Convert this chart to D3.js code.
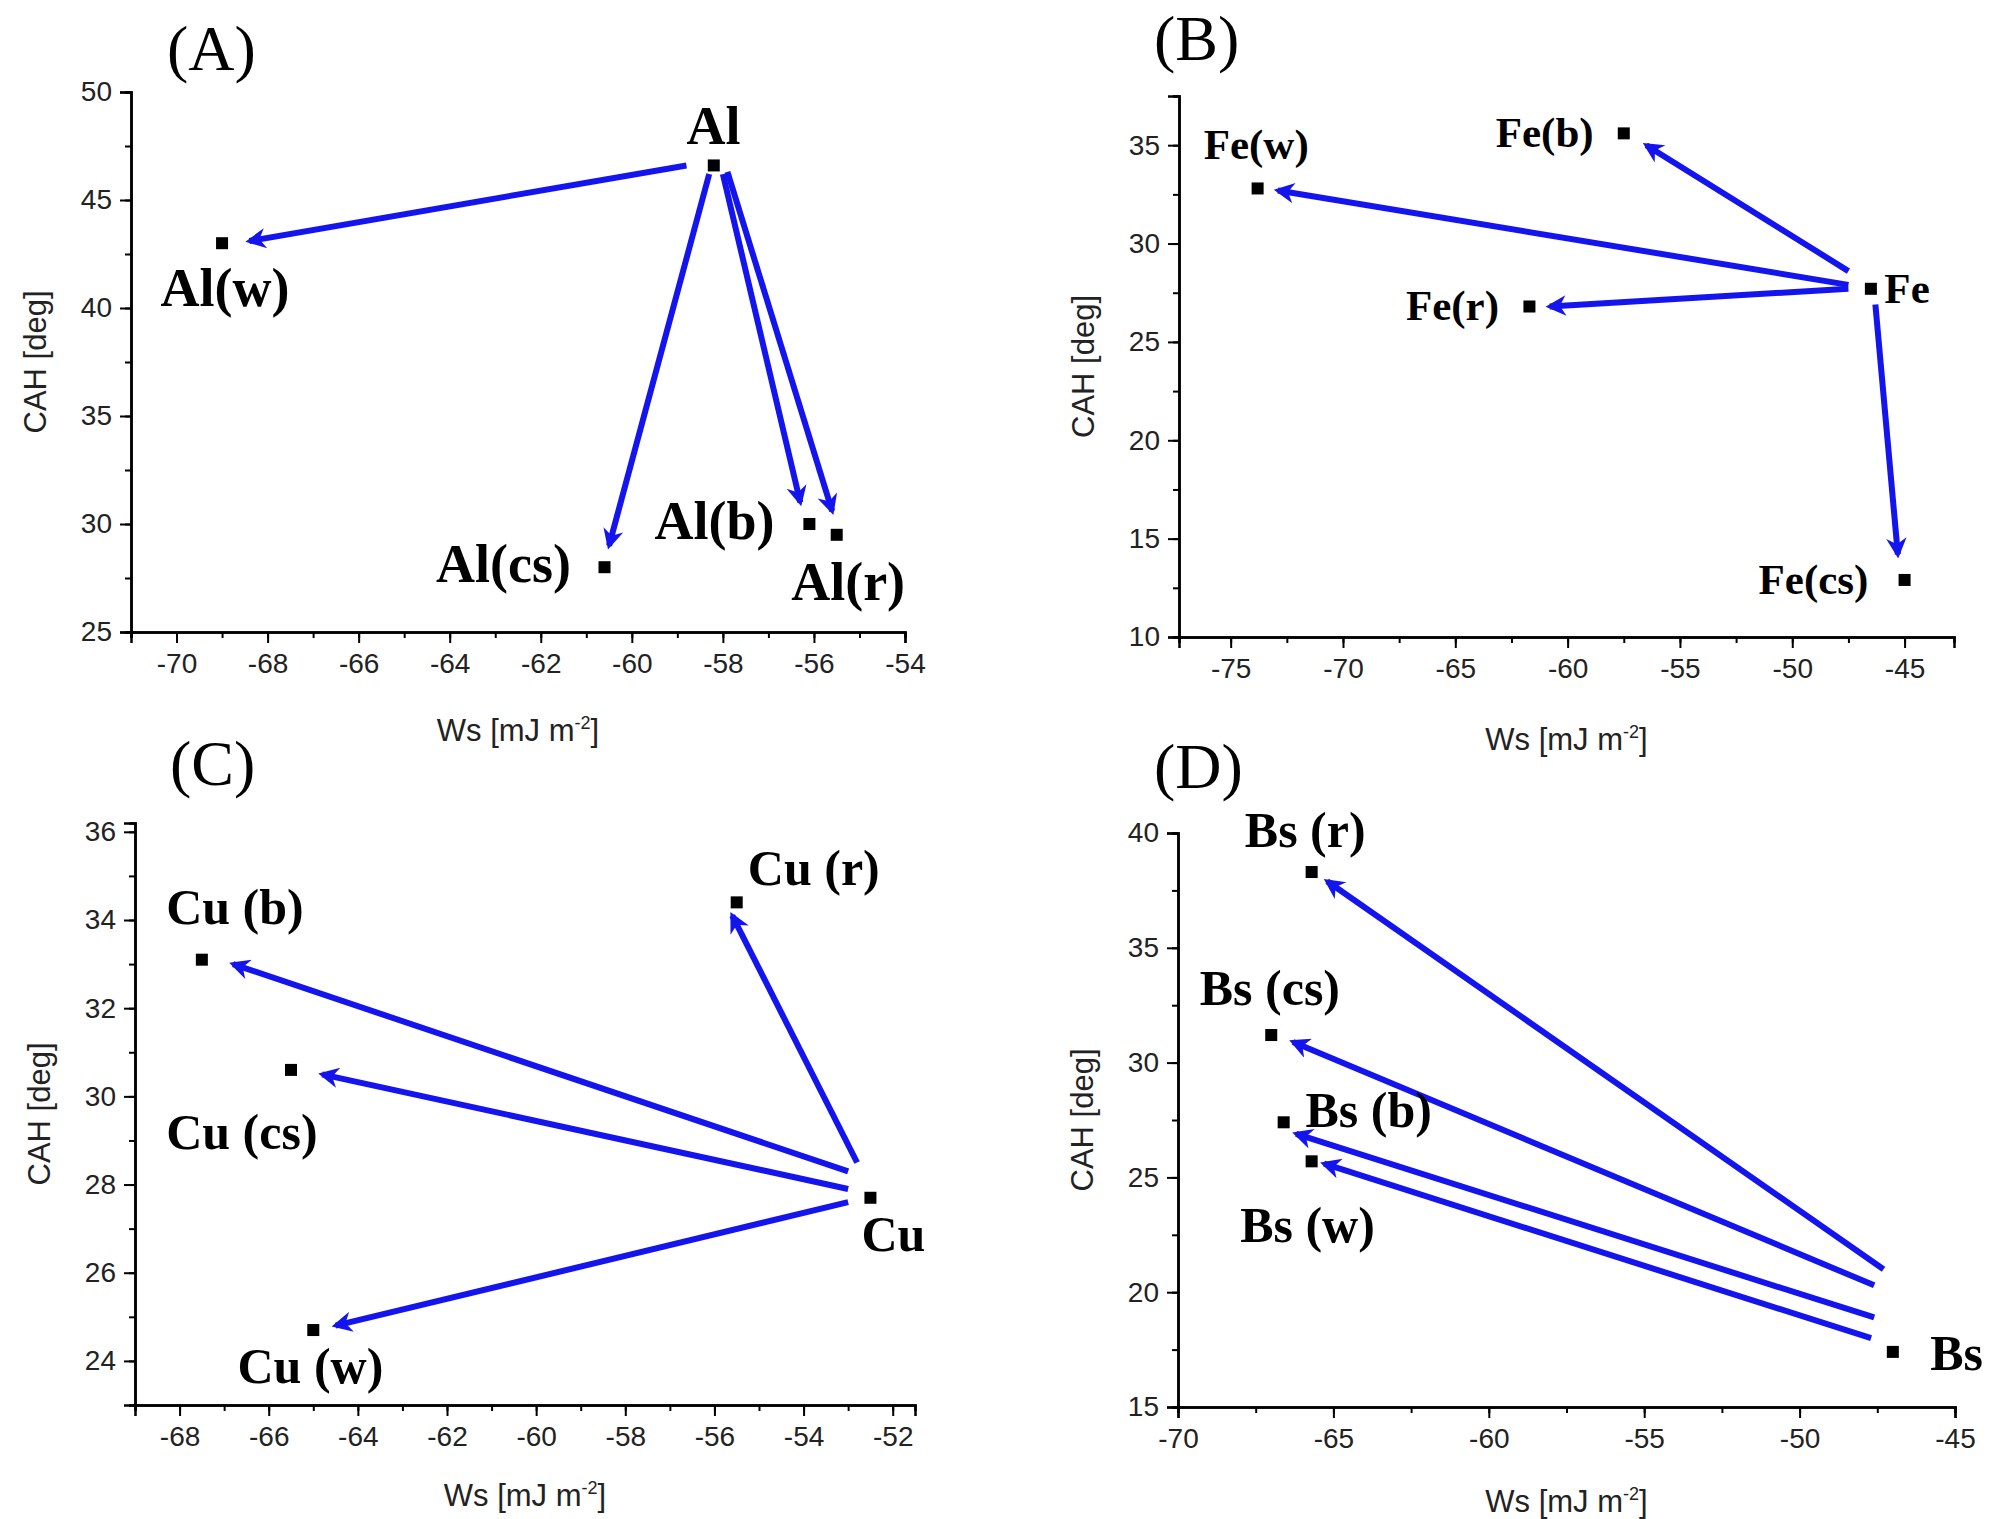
<!DOCTYPE html><html><head><meta charset="utf-8">
<script src="https://cdn.jsdelivr.net/npm/d3@7"></script>
<style>body{margin:0;background:#fff}</style></head><body>
<svg id="c" width="2000" height="1519"></svg>
<script>
// ---- data ----
const panelNames=["(A)","(B)","(C)","(D)"];
const xDomains=[[-71,-54],[-77.3,-42.8],[-69,-51.5],[-70,-45]];
const yDomains=[[25,50],[10,37.5],[23,36.2],[15,40]];
const xTickVals=[[-70,-68,-66,-64,-62,-60,-58,-56,-54],[-75,-70,-65,-60,-55,-50,-45],[-68,-66,-64,-62,-60,-58,-56,-54,-52],[-70,-65,-60,-55,-50,-45]];
const yTickVals=[[25,30,35,40,45,50],[10,15,20,25,30,35],[24,26,28,30,32,34,36],[15,20,25,30,35,40]];
const xMinorStep=[1,2.5,1,2.5], yMinorStep=[2.5,2.5,1,2.5];
const pointsA=[[-58.2,46.6],[-69,43],[-60.6,28],[-56.1,30],[-55.5,29.5]];
const pointsB=[[-46.5,27.7],[-73.8,32.8],[-57.5,35.6],[-61.7,26.8],[-45,12.9]];
const pointsC=[[-52.5,27.7],[-67.5,33.1],[-65.5,30.6],[-65,24.7],[-55.5,34.4]];
const pointsD=[[-47,17.4],[-65.7,38.3],[-67,31.2],[-66.6,27.4],[-65.7,25.7]];
const arrowsA=[[-58.8,46.6,-68.4,43.1],[-58.3,46.2,-60.5,29],[-58.0,46.2,-56.3,31],[-57.9,46.3,-55.6,30.6]];
const arrowsB=[[-47.5,28.6,-56.5,35],[-47.5,27.9,-72.9,32.7],[-47.5,27.7,-60.8,26.8],[-46.3,26.9,-45.3,14.2]];
const arrowsC=[[-53,28.3,-66.8,33.0],[-53,27.9,-64.8,30.5],[-53,27.6,-64.5,24.8],[-52.8,28.5,-55.6,34.1]];
const arrowsD=[[-47.3,21,-65.2,37.9],[-47.6,20.3,-66.3,30.9],[-47.6,18.9,-66.2,26.9],[-47.7,18.0,-65.3,25.6]];
const labelsA=[["Al",-58.8,47.6],["Al(w)",-70.35,40.1],["Al(cs)",-64.3,27.3],["Al(b)",-59.5,29.3],["Al(r)",-56.5,26.5]];
const labelsB=[["Fe(w)",-76.2,34.3],["Fe(b)",-63.2,34.9],["Fe(r)",-67.2,26.1],["Fe",-45.9,27.0],["Fe(cs)",-51.5,12.2]];
const labelsC=[["Cu (r)",-55.25,34.8],["Cu (b)",-68.3,33.9],["Cu (cs)",-68.3,28.8],["Cu",-52.7,26.5],["Cu (w)",-66.7,23.5]];
const labelsD=[["Bs (r)",-67.85,39.4],["Bs (cs)",-69.3,32.5],["Bs (b)",-65.9,27.2],["Bs (w)",-68.0,22.2],["Bs",-45.8,16.6]];
// ---- layout ----
const boxes=[{l:131,r:905,t:92,b:632,lf:54,tx:167,ty:70,xt:741},
             {l:1179,r:1954,t:96,b:637,lf:43,tx:1154,ty:60,xt:750},
             {l:135,r:915,t:823,b:1405,lf:50,tx:170,ty:785,xt:1506},
             {l:1178,r:1955,t:833,b:1407,lf:50,tx:1154,ty:788,xt:1512}];
const P=[pointsA,pointsB,pointsC,pointsD],A=[arrowsA,arrowsB,arrowsC,arrowsD],L=[labelsA,labelsB,labelsC,labelsD];
const svg=d3.select("#c");
const blue="#1414ee";
svg.append("defs").append("marker").attr("id","ah").attr("viewBox","0 0 10 10").attr("refX",8).attr("refY",5)
 .attr("markerWidth",4.2).attr("markerHeight",3.4).attr("orient","auto").attr("markerUnits","strokeWidth")
 .append("path").attr("d","M0,0 L10,5 L0,10 L3,5 Z").attr("fill",blue);
boxes.forEach((b,i)=>{
  const x=d3.scaleLinear().domain(xDomains[i]).range([b.l,b.r]);
  const y=d3.scaleLinear().domain(yDomains[i]).range([b.b,b.t]);
  const g=svg.append("g");
  const xm=d3.range(Math.ceil(xDomains[i][0]/xMinorStep[i])*xMinorStep[i],xDomains[i][1]+1e-6,xMinorStep[i]);
  const ym=d3.range(Math.ceil(yDomains[i][0]/yMinorStep[i])*yMinorStep[i],yDomains[i][1]+1e-6,yMinorStep[i]);
  g.append("g").attr("transform",`translate(0,${b.b})`).call(d3.axisBottom(x).tickValues(xm).tickSize(6).tickFormat(""));
  g.append("g").attr("transform",`translate(${b.l},0)`).call(d3.axisLeft(y).tickValues(ym).tickSize(6).tickFormat(""));
  const ax=g.append("g").attr("transform",`translate(0,${b.b})`).call(d3.axisBottom(x).tickValues(xTickVals[i]).tickSize(11).tickPadding(10).tickFormat(d=>String(d)));
  const ay=g.append("g").attr("transform",`translate(${b.l},0)`).call(d3.axisLeft(y).tickValues(yTickVals[i]).tickSize(11).tickPadding(8).tickFormat(d=>String(d)));
  g.selectAll(".domain").attr("stroke-width",2.5);
  g.selectAll(".tick line").attr("stroke-width",2);
  [ax,ay].forEach(a=>a.selectAll("text").attr("font-family","Liberation Sans, Arial").attr("font-size",28).attr("fill","#222"));
  g.append("text").attr("x",(b.l+b.r)/2).attr("y",b.xt).attr("text-anchor","middle").attr("font-family","Liberation Sans, Arial").attr("font-size",31).attr("fill","#222")
   .html('Ws [mJ m<tspan dy="-12" font-size="18">-2</tspan><tspan dy="12">]</tspan>');
  g.append("text").attr("transform",`translate(${b.l-85},${(b.t+b.b)/2}) rotate(-90)`).attr("text-anchor","middle").attr("font-family","Liberation Sans, Arial").attr("font-size",31).attr("fill","#222").text("CAH [deg]");
  g.append("text").attr("x",b.tx).attr("y",b.ty).attr("font-family","Liberation Serif, Times New Roman").attr("font-size",64).text(panelNames[i]);
  g.selectAll("line.arr").data(A[i]).join("line").attr("x1",d=>x(d[0])).attr("y1",d=>y(d[1])).attr("x2",d=>x(d[2])).attr("y2",d=>y(d[3]))
   .attr("stroke",blue).attr("stroke-width",6).attr("marker-end","url(#ah)");
  g.selectAll("rect.pt").data(P[i]).join("rect").attr("x",d=>x(d[0])-6).attr("y",d=>y(d[1])-6).attr("width",12).attr("height",12).attr("fill","#000");
  g.selectAll("text.lab").data(L[i]).join("text").attr("x",d=>x(d[1])).attr("y",d=>y(d[2])).attr("font-family","Liberation Serif, Times New Roman").attr("font-weight","bold").attr("font-size",b.lf).text(d=>d[0]);
});
</script></body></html>
